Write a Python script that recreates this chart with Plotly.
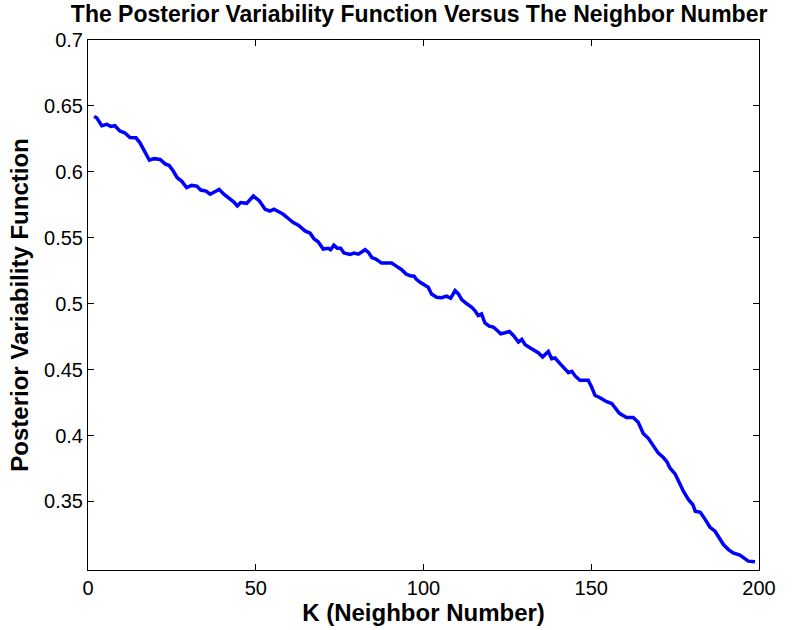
import plotly.graph_objects as go

k_values = [1.8, 2.6, 4.1, 5.6, 6.8, 8.0, 9.5, 11.0, 12.5, 14.3, 15.5, 17.0, 18.3, 19.7, 21.5, 23.0, 24.2,
            25.4, 26.6, 27.9, 29.4, 30.9, 32.4, 33.6, 35.2, 36.4, 37.9, 39.1, 40.5, 42.3, 43.5, 44.5, 45.5,
            47.3, 49.3, 51.1, 52.8, 54.2, 55.4, 57.0, 58.2, 59.7, 61.2, 62.7, 64.7, 66.2, 67.4, 68.6, 70.1,
            71.6, 72.3, 73.3, 74.3, 75.3, 76.3, 78.1, 79.3, 80.6, 82.6, 83.6, 84.6, 85.8, 87.5, 89.0, 90.5,
            92.0, 93.5, 94.8, 96.0, 97.2, 97.8, 99.0, 100.1, 101.4, 102.4, 103.9, 105.4, 106.9, 108.1, 109.4,
            110.4, 111.4, 112.9, 114.4, 115.3, 116.3, 117.3, 118.3, 119.6, 120.8, 122.0, 123.0, 124.3, 125.6,
            126.8, 128.3, 129.3, 130.3, 132.2, 134.2, 135.5, 137.2, 138.2, 139.2, 140.7, 142.2, 143.2, 144.2,
            145.2, 146.6, 149.1, 150.1, 151.1, 152.6, 154.6, 156.1, 157.1, 158.4, 160.5, 162.5, 164.0, 165.5,
            167.0, 168.5, 170.0, 171.5, 172.5, 173.5, 175.0, 176.3, 177.5, 179.0, 180.3, 181.0, 182.5, 184.0,
            185.4, 186.9, 187.9, 189.4, 190.9, 192.3, 194.3, 195.5, 196.8, 198.8]
pv_values = [0.642, 0.641, 0.635, 0.636, 0.6345, 0.635, 0.631, 0.6295, 0.626, 0.6258, 0.622, 0.6144, 0.6088,
             0.610, 0.6094, 0.606, 0.6048, 0.6006, 0.5955, 0.593, 0.588, 0.5897, 0.5892, 0.5862, 0.5854,
             0.583, 0.5847, 0.5867, 0.583, 0.5792, 0.5771, 0.5741, 0.5767, 0.5761, 0.5817, 0.5779, 0.5716,
             0.5703, 0.5716, 0.5696, 0.5678, 0.5646, 0.5615, 0.5595, 0.5552, 0.5535, 0.549, 0.547, 0.5414,
             0.542, 0.5409, 0.5444, 0.542, 0.542, 0.5384, 0.5374, 0.5384, 0.5376, 0.5409, 0.5389, 0.535,
             0.5338, 0.5308, 0.5308, 0.5308, 0.5283, 0.5258, 0.5225, 0.5212, 0.5208, 0.5187, 0.5162, 0.5142,
             0.5125, 0.5074, 0.5049, 0.5046, 0.5057, 0.5041, 0.5099, 0.5074, 0.5031, 0.4999, 0.4973, 0.4948,
             0.491, 0.4923, 0.4855, 0.483, 0.4822, 0.4797, 0.4772, 0.478, 0.4789, 0.4759, 0.4709, 0.4729,
             0.4689, 0.4659, 0.4628, 0.4596, 0.4638, 0.4583, 0.4588, 0.4545, 0.4502, 0.4477, 0.4487, 0.4452,
             0.4419, 0.4419, 0.4369, 0.4306, 0.4286, 0.4256, 0.4243, 0.4211, 0.4168, 0.4137, 0.4137, 0.41,
             0.4016, 0.3979, 0.3928, 0.3866, 0.3833, 0.3803, 0.3752, 0.3709, 0.3639, 0.3576, 0.3513, 0.3475,
             0.3425, 0.3418, 0.3362, 0.3304, 0.3274, 0.3236, 0.3173, 0.3135, 0.311, 0.3093, 0.3073, 0.3047,
             0.3042]

x_ticks = [0, 50, 100, 150, 200]
y_ticks = [0.35, 0.4, 0.45, 0.5, 0.55, 0.6, 0.65, 0.7]
y_tick_text = ["0.35", "0.4", "0.45", "0.5", "0.55", "0.6", "0.65", "0.7"]

FONT = "Liberation Sans, Arial, sans-serif"

fig = go.Figure()
fig.add_trace(go.Scatter(x=k_values, y=pv_values, mode="lines",
                         line=dict(color="#0000FF", width=3.5), showlegend=False))

fig.update_layout(
    width=806, height=630,
    margin=dict(l=88, r=47, t=40, b=58),
    paper_bgcolor="white", plot_bgcolor="white",
    font=dict(family=FONT, color="black", size=20),
    title=dict(text="<b>The Posterior Variability Function Versus The Neighbor Number</b>",
               x=0.52, xanchor="center", y=1 - 14 / 630, yanchor="middle",
               font=dict(family=FONT, size=23, color="black")),
)
fig.update_xaxes(range=[0, 200], tickvals=x_ticks, ticks="inside", ticklen=6, tickcolor="black",
                 showline=True, linecolor="black", linewidth=1, mirror="ticks", showgrid=False,
                 zeroline=False, tickfont=dict(size=20),
                 title=dict(text="<b>K (Neighbor Number)</b>", font=dict(size=24), standoff=2))
fig.update_yaxes(range=[0.298, 0.7], tickvals=y_ticks, ticktext=y_tick_text, ticks="inside", ticklen=6,
                 tickcolor="black", showline=True, linecolor="black", linewidth=1, mirror="ticks",
                 showgrid=False, zeroline=False, tickfont=dict(size=20),
                 title=dict(text="<b>Posterior Variability Function</b>", font=dict(size=24), standoff=8))

fig.write_html("out.html")
